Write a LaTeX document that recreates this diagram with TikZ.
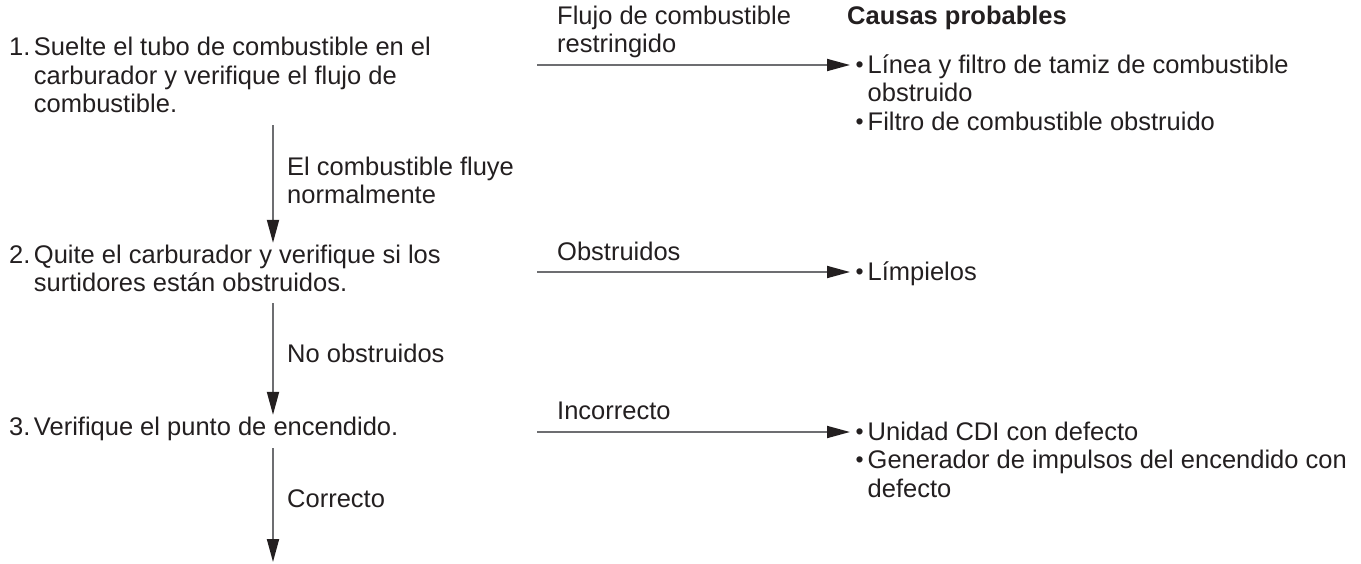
\documentclass[tikz,border=0pt]{standalone}
\usepackage{fontspec}
\setmainfont{Liberation Sans}
\usepackage{xcolor}
\usetikzlibrary{arrows.meta}
\definecolor{ink}{HTML}{231F20}
\definecolor{wire}{HTML}{6D6E71}
\newcommand{\itm}{\makebox[12.5pt][l]{\hspace{0.5pt}\raisebox{0.9pt}{\scalebox{0.9}{•}}}}

\begin{document}
\begin{tikzpicture}[x=1pt, y=-1pt,
    txt/.style = {inner sep=0pt, anchor=base west, text=ink, font=\fontsize{25.5}{28.5}\selectfont},
    arr/.style = {draw=wire, line width=1.8pt, -{Triangle[length=23pt, width=12pt, color=ink]}},
    hop/.style = {arr, shorten >=5pt}]
    \useasboundingbox (0,0) rectangle (1361,563);
    % steps
    \node[txt] (s1) at (9,55.5) {\begin{tabular}[t]{@{}l@{}l@{}}1.\hspace{3.5pt} & Suelte el tubo de combustible en el\\
        & carburador y verifique el flujo de\\ & combustible.\end{tabular}};
    \node[txt] (s2) at (9,263) {\begin{tabular}[t]{@{}l@{}l@{}}2.\hspace{3.5pt} & Quite el carburador y verifique si los\\
        & surtidores están obstruidos.\end{tabular}};
    \node[txt] (s3) at (9,435) {\begin{tabular}[t]{@{}l@{}l@{}}3.\hspace{3.5pt} & Verifique el punto de encendido.\end{tabular}};
    % answers to the right
    \node[txt] (l1) at (557,24) {\begin{tabular}[t]{@{}l@{}}Flujo de combustible\\ restringido\end{tabular}};
    \node[txt, font=\fontsize{25.5}{28.5}\selectfont\bfseries] (hd) at (847,24) {Causas probables};
    \node[txt] (c1) at (855,73) {\begin{tabular}[t]{@{}l@{}l@{}}\itm & Línea y filtro de tamiz de combustible\\
        & obstruido\\ \itm & Filtro de combustible obstruido\end{tabular}};
    \node[txt] (l2) at (557,260) {Obstruidos};
    \node[txt] (c2) at (855,280) {\begin{tabular}[t]{@{}l@{}l@{}}\itm & Límpielos\end{tabular}};
    \node[txt] (l3) at (557,419) {Incorrecto};
    \node[txt] (c3) at (855,440) {\begin{tabular}[t]{@{}l@{}l@{}}\itm & Unidad CDI con defecto\\
        \itm & Generador de impulsos del encendido con\\ & defecto\end{tabular}};
    % answers going down
    \node[txt] (d1) at (287,175) {\begin{tabular}[t]{@{}l@{}}El combustible fluye\\ normalmente\end{tabular}};
    \node[txt] (d2) at (287,362) {No obstruidos};
    \node[txt] (d3) at (287,507) {Correcto};
    % connectors
    \coordinate (spine) at (273,0);
    \coordinate (h1) at (537,65);
    \coordinate (h2) at (537,272);
    \coordinate (h3) at (537,432);
    \coordinate (tail) at (273,562);
    \draw[arr, shorten <=4pt] (s1.south -| spine) -- (s2.north -| spine);
    \draw[arr, shorten <=3pt] (s2.south -| spine) -- (s3.north -| spine);
    \draw[arr, shorten <=4.5pt] (s3.south -| spine) -- (tail);
    \draw[hop] (h1) -- (c1.west |- h1);
    \draw[hop] (h2) -- (c2.west |- h2);
    \draw[hop] (h3) -- (c3.west |- h3);
\end{tikzpicture}
\end{document}
